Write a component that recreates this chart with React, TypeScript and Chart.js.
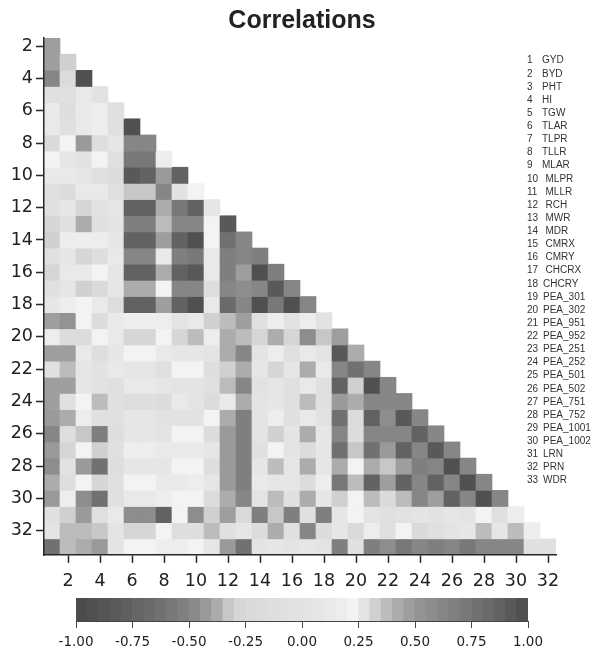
import React, { useEffect, useRef } from "react";
import { Chart, registerables } from "chart.js";

Chart.register(...registerables);

// Variable names (index + 1 = variable number)
const varNames = [
  "GYD", "BYD", "PHT", "HI", "TGW", "TLAR", "TLPR", "TLLR", "MLAR", "MLPR", "MLLR",
  "RCH", "MWR", "MDR", "CMRX", "CMRY", "CHCRX", "CHCRY", "PEA_301", "PEA_302",
  "PEA_951", "PEA_952", "PEA_251", "PEA_252", "PEA_501", "PEA_502", "PEA_751",
  "PEA_752", "PEA_1001", "PEA_1002", "LRN", "PRN", "WDR",
];

const xTicks = [2, 4, 6, 8, 10, 12, 14, 16, 18, 20, 22, 24, 26, 28, 30, 32];
const yTicks = [2, 4, 6, 8, 10, 12, 14, 16, 18, 20, 22, 24, 26, 28, 30, 32];
const colorbarTicks = [-1, -0.75, -0.5, -0.25, 0, 0.25, 0.5, 0.75, 1];

// Lower-triangle correlation rows: rowNN holds r(NN, 1..NN-1)
const row02 = [0.47];
const row03 = [0.47, 0.32];
const row04 = [0.62, -0.17, -0.92];
const row05 = [-0.08, -0.08, 0.12, -0.03];
const row06 = [0.12, -0.12, 0.12, 0.17, -0.08];
const row07 = [0.12, -0.08, 0.12, 0.17, -0.08, 0.97];
const row08 = [-0.22, 0.22, -0.42, -0.12, 0.07, 0.62, 0.62];
const row09 = [0.22, 0.07, -0.03, 0.22, -0.08, 0.72, 0.72, 0.17];
const row10 = [0.12, 0.12, 0.07, -0.08, -0.17, 0.92, 0.86, -0.42, 0.86];
const row11 = [-0.08, -0.17, 0.12, 0.12, -0.08, -0.33, -0.33, 0.62, -0.03, 0.22];
const row12 = [-0.08, 0.07, -0.27, -0.03, 0.07, 0.86, 0.86, 0.42, 0.72, 0.86, 0.07];
const row13 = [-0.27, -0.08, 0.42, -0.08, 0.02, 0.67, 0.67, 0.37, 0.62, 0.62, 0.22, 0.93];
const row14 = [0.32, 0.17, 0.17, 0.17, 0.07, 0.88, 0.88, 0.47, 0.86, 0.97, 0.22, 0.77, 0.62];
const row15 = [-0.08, 0.07, -0.27, -0.12, 0.12, 0.62, 0.62, 0.12, 0.67, 0.72, 0.12, 0.67, 0.62, 0.67];
const row16 = [-0.27, 0.12, 0.12, 0.22, 0.07, 0.88, 0.88, 0.42, 0.86, 0.92, 0.12, 0.67, 0.47, 0.97, 0.67];
const row17 = [-0.08, 0.07, 0.32, -0.22, 0.07, 0.42, 0.42, 0.22, 0.62, 0.62, -0.12, 0.62, 0.57, 0.62, 0.93, 0.62];
const row18 = [0.07, 0.17, 0.22, 0.12, -0.12, 0.88, 0.88, 0.47, 0.86, 0.97, 0.12, 0.82, 0.62, 0.97, 0.72, 0.97, 0.62];
const row19 = [0.47, 0.52, 0.22, -0.17, 0.12, 0.17, 0.17, 0.17, 0.02, 0.12, 0.32, 0.37, 0.47, -0.08, 0.17, -0.03, 0.17, -0.03];
const row20 = [0.17, -0.17, -0.17, 0.22, 0.12, -0.27, -0.27, 0.22, -0.27, 0.37, 0.17, 0.42, 0.37, -0.27, 0.42, -0.27, 0.57, -0.33, 0.47];
const row21 = [0.47, 0.47, 0.12, -0.12, 0.07, 0.22, 0.22, 0.12, 0.07, 0.07, 0.02, 0.42, 0.62, 0.02, 0.17, -0.08, 0.12, 0.02, 0.92, 0.42];
const row22 = [-0.08, 0.37, 0.07, -0.03, 0.12, 0.07, 0.07, -0.08, 0.22, 0.22, -0.12, 0.32, 0.42, 0.07, -0.27, 0.07, 0.42, 0.12, 0.62, 0.77, 0.62];
const row23 = [0.47, 0.47, 0.07, -0.03, -0.08, 0.12, 0.12, 0.07, 0.02, 0.02, -0.08, 0.37, 0.62, -0.03, 0.07, -0.08, 0.12, -0.08, 0.88, 0.32, 0.97, 0.62];
const row24 = [0.47, -0.08, 0.22, 0.37, -0.08, -0.12, -0.12, -0.17, 0.12, 0.02, -0.17, 0.12, 0.42, 0.02, 0.07, -0.08, 0.37, -0.08, -0.42, 0.42, 0.62, 0.62, 0.62];
const row25 = [-0.42, 0.42, 0.17, -0.08, -0.08, 0.07, 0.07, -0.03, -0.03, -0.03, 0.22, 0.42, 0.67, 0.02, 0.17, -0.08, 0.12, -0.03, 0.77, -0.17, 0.86, 0.57, 0.92, 0.62];
const row26 = [0.62, -0.12, -0.33, 0.67, -0.12, 0.07, 0.07, 0.02, 0.22, 0.22, -0.17, -0.42, 0.67, 0.02, 0.32, 0.02, 0.42, 0.07, 0.62, -0.17, 0.62, 0.62, 0.62, 0.86, 0.62];
const row27 = [-0.42, -0.27, 0.22, 0.32, -0.08, 0.17, 0.17, 0.12, 0.12, 0.12, 0.07, -0.42, 0.67, -0.08, 0.22, 0.02, -0.17, 0.07, 0.77, -0.33, 0.77, -0.42, 0.86, 0.62, 0.93, 0.62];
const row28 = [0.57, -0.03, -0.42, 0.77, -0.12, 0.07, 0.07, 0.07, 0.22, 0.22, -0.12, -0.42, 0.67, 0.07, 0.37, 0.07, 0.42, 0.07, 0.42, 0.22, 0.42, -0.33, 0.47, 0.67, 0.62, 0.97, 0.62];
const row29 = [0.42, -0.12, 0.22, -0.27, -0.08, 0.22, 0.22, 0.12, 0.12, 0.17, 0.07, -0.42, 0.67, 0.12, 0.07, 0.07, -0.17, 0.17, 0.72, 0.37, 0.86, 0.47, 0.86, 0.62, 0.86, 0.62, 0.97, 0.62];
const row30 = [-0.42, 0.17, 0.57, 0.77, -0.08, 0.12, 0.12, 0.17, 0.22, 0.22, -0.17, 0.42, 0.62, 0.02, 0.37, -0.08, 0.42, 0.07, 0.32, 0.22, 0.37, -0.22, 0.37, 0.62, 0.47, 0.88, 0.62, 0.97, 0.62];
const row31 = [-0.08, 0.32, -0.42, -0.08, 0.12, 0.57, 0.57, 0.86, 0.22, 0.57, 0.32, 0.47, -0.22, 0.67, -0.33, 0.67, -0.08, 0.67, 0.07, 0.22, 0.02, -0.08, -0.03, 0.02, -0.03, 0.07, 0.02, 0.22, -0.08, 0.17];
const row32 = [0.02, 0.37, 0.37, -0.33, 0.02, -0.27, -0.27, 0.22, -0.12, -0.12, 0.37, -0.08, 0.07, -0.17, 0.42, -0.08, 0.62, -0.17, 0.07, -0.22, 0.17, -0.08, 0.22, -0.22, -0.08, 0.02, 0.07, 0.37, 0.07, 0.37, 0.17];
const row33 = [0.77, 0.37, 0.42, -0.42, 0.02, 0.22, 0.22, 0.17, 0.17, 0.22, 0.07, -0.42, 0.77, 0.02, 0.07, 0.02, 0.07, 0.02, 0.67, -0.08, 0.67, 0.57, 0.72, 0.62, 0.67, 0.62, 0.72, 0.62, 0.62, 0.62, -0.08, -0.08];

const corrRows = [
  row02, row03, row04, row05, row06, row07, row08, row09, row10, row11, row12,
  row13, row14, row15, row16, row17, row18, row19, row20, row21, row22, row23,
  row24, row25, row26, row27, row28, row29, row30, row31, row32, row33,
];

// 40-step gray colour scale from -1 to 1 (step 0.05)
const grayPalette = [
  76, 80, 85, 90, 95, 101, 107, 113, 120, 128,
  138, 154, 172, 199, 214, 218, 220, 222, 224, 226,
  228, 230, 233, 237, 243, 228, 208, 188, 172, 158,
  147, 141, 134, 127, 120, 113, 106, 98, 89, 80,
];

const BIN = 2 / grayPalette.length;

function grayCss(g: number) {
  return `rgb(${g},${g},${g})`;
}

function colorFor(v: number) {
  const i = Math.max(0, Math.min(grayPalette.length - 1, Math.floor((v + 1) / BIN)));
  return grayCss(grayPalette[i]);
}

const AXIS_COLOR = "#262626";
const TICK_FONT = { family: '"DejaVu Sans", "Liberation Sans", Arial, sans-serif', size: 17.5 };

const overlayPlugin = {
  id: "overlayText",
  afterDraw(chart: any) {
    const ctx = chart.ctx as CanvasRenderingContext2D;
    ctx.save();
    ctx.fillStyle = "#222";
    ctx.font = 'bold 25px "Liberation Sans", Arial, sans-serif';
    ctx.textAlign = "center";
    ctx.textBaseline = "alphabetic";
    ctx.fillText("Correlations", 302, 28);

    ctx.fillStyle = "#333";
    ctx.font = '10px "Liberation Sans", Arial, sans-serif';
    ctx.textAlign = "left";
    ctx.textBaseline = "middle";
    varNames.forEach((name, i) => {
      const n = i + 1;
      const y = 60.7 + i * 13.125;
      ctx.fillText(String(n), 527, y);
      const nx = n < 10 ? 542 : n < 18 ? 545.5 : 543;
      ctx.fillText(name, nx, y);
    });
    ctx.restore();
  },
};

export default function App() {
  const mainRef = useRef<HTMLCanvasElement | null>(null);
  const barRef = useRef<HTMLCanvasElement | null>(null);

  useEffect(() => {
    document.body.style.margin = "0";
    const datasets = corrRows.map((vals, i) => {
      const r = i + 2;
      return {
        label: varNames[r - 1],
        data: vals.map((_v, c) => ({ x: c + 1, y: [r - 0.5, r + 0.5] })),
        backgroundColor: vals.map(colorFor),
        borderWidth: 0,
        grouped: false,
        barPercentage: 1,
        categoryPercentage: 1,
      };
    });

    const main = new Chart(mainRef.current as HTMLCanvasElement, {
      type: "bar",
      data: { datasets: datasets as any },
      plugins: [overlayPlugin],
      options: {
        animation: false,
        responsive: false,
        events: [],
        layout: { padding: { top: 38, left: 0, right: 48, bottom: 0 } },
        plugins: { legend: { display: false }, tooltip: { enabled: false }, title: { display: false } },
        scales: {
          x: {
            type: "linear",
            min: 0.5,
            max: 32.5,
            offset: false,
            afterBuildTicks: (axis: any) => {
              axis.ticks = xTicks.map((v) => ({ value: v }));
            },
            afterFit: (axis: any) => {
              axis.height = 35;
            },
            ticks: {
              autoSkip: false,
              maxRotation: 0,
              padding: 8,
              color: "#222",
              font: TICK_FONT,
              callback: (v: any) => String(v),
            },
            grid: {
              offset: false,
              drawOnChartArea: false,
              drawTicks: true,
              tickLength: 8,
              tickColor: AXIS_COLOR,
              tickWidth: 1.5,
            },
            border: { display: true, color: AXIS_COLOR, width: 1.5, z: 1 },
          },
          y: {
            type: "linear",
            reverse: true,
            min: 1.5,
            max: 33.5,
            beginAtZero: false,
            afterBuildTicks: (axis: any) => {
              axis.ticks = yTicks.map((v) => ({ value: v }));
            },
            afterFit: (axis: any) => {
              axis.width = 44;
            },
            ticks: {
              autoSkip: false,
              padding: 3,
              color: "#222",
              font: TICK_FONT,
              callback: (v: any) => String(v),
            },
            grid: {
              drawOnChartArea: false,
              drawTicks: true,
              tickLength: 8,
              tickColor: AXIS_COLOR,
              tickWidth: 1.5,
            },
            border: { display: true, color: AXIS_COLOR, width: 1.5, z: 1 },
          },
        },
      } as any,
    });

    const bar = new Chart(barRef.current as HTMLCanvasElement, {
      type: "bar",
      data: {
        datasets: [
          {
            data: grayPalette.map((_g, i) => ({ x: -1 + (i + 0.5) * BIN, y: [0, 1] })),
            backgroundColor: grayPalette.map(grayCss),
            borderWidth: 0,
            grouped: false,
            barPercentage: 1,
            categoryPercentage: 1,
          } as any,
        ],
      },
      options: {
        animation: false,
        responsive: false,
        events: [],
        layout: { padding: { top: 8, left: 76, right: 76, bottom: 0 } },
        plugins: { legend: { display: false }, tooltip: { enabled: false } },
        scales: {
          x: {
            type: "linear",
            min: -1,
            max: 1,
            offset: false,
            afterBuildTicks: (axis: any) => {
              axis.ticks = colorbarTicks.map((v) => ({ value: v }));
            },
            afterFit: (axis: any) => {
              axis.height = 30;
            },
            ticks: {
              autoSkip: false,
              maxRotation: 0,
              padding: 6,
              color: "#222",
              font: { family: '"DejaVu Sans", "Liberation Sans", Arial, sans-serif', size: 13.5 },
              callback: (v: any) => Number(v).toFixed(2),
            },
            grid: {
              offset: false,
              drawOnChartArea: false,
              drawTicks: true,
              tickLength: 7,
              tickColor: "#444",
              tickWidth: 1,
            },
            border: { display: true, color: "#444", width: 1, z: 1 },
          },
          y: {
            type: "linear",
            display: false,
            min: 0,
            max: 1,
          },
        },
      } as any,
    });

    return () => {
      main.destroy();
      bar.destroy();
    };
  }, []);

  return (
    <div style={{ position: "absolute", left: 0, top: 0, width: 604, height: 651, background: "#fff" }}>
      <canvas
        ref={mainRef}
        width={604}
        height={590}
        style={{ position: "absolute", left: 0, top: 0, width: 604, height: 590, display: "block" }}
      />
      <canvas
        ref={barRef}
        width={604}
        height={61}
        style={{ position: "absolute", left: 0, top: 590, width: 604, height: 61, display: "block" }}
      />
    </div>
  );
}
